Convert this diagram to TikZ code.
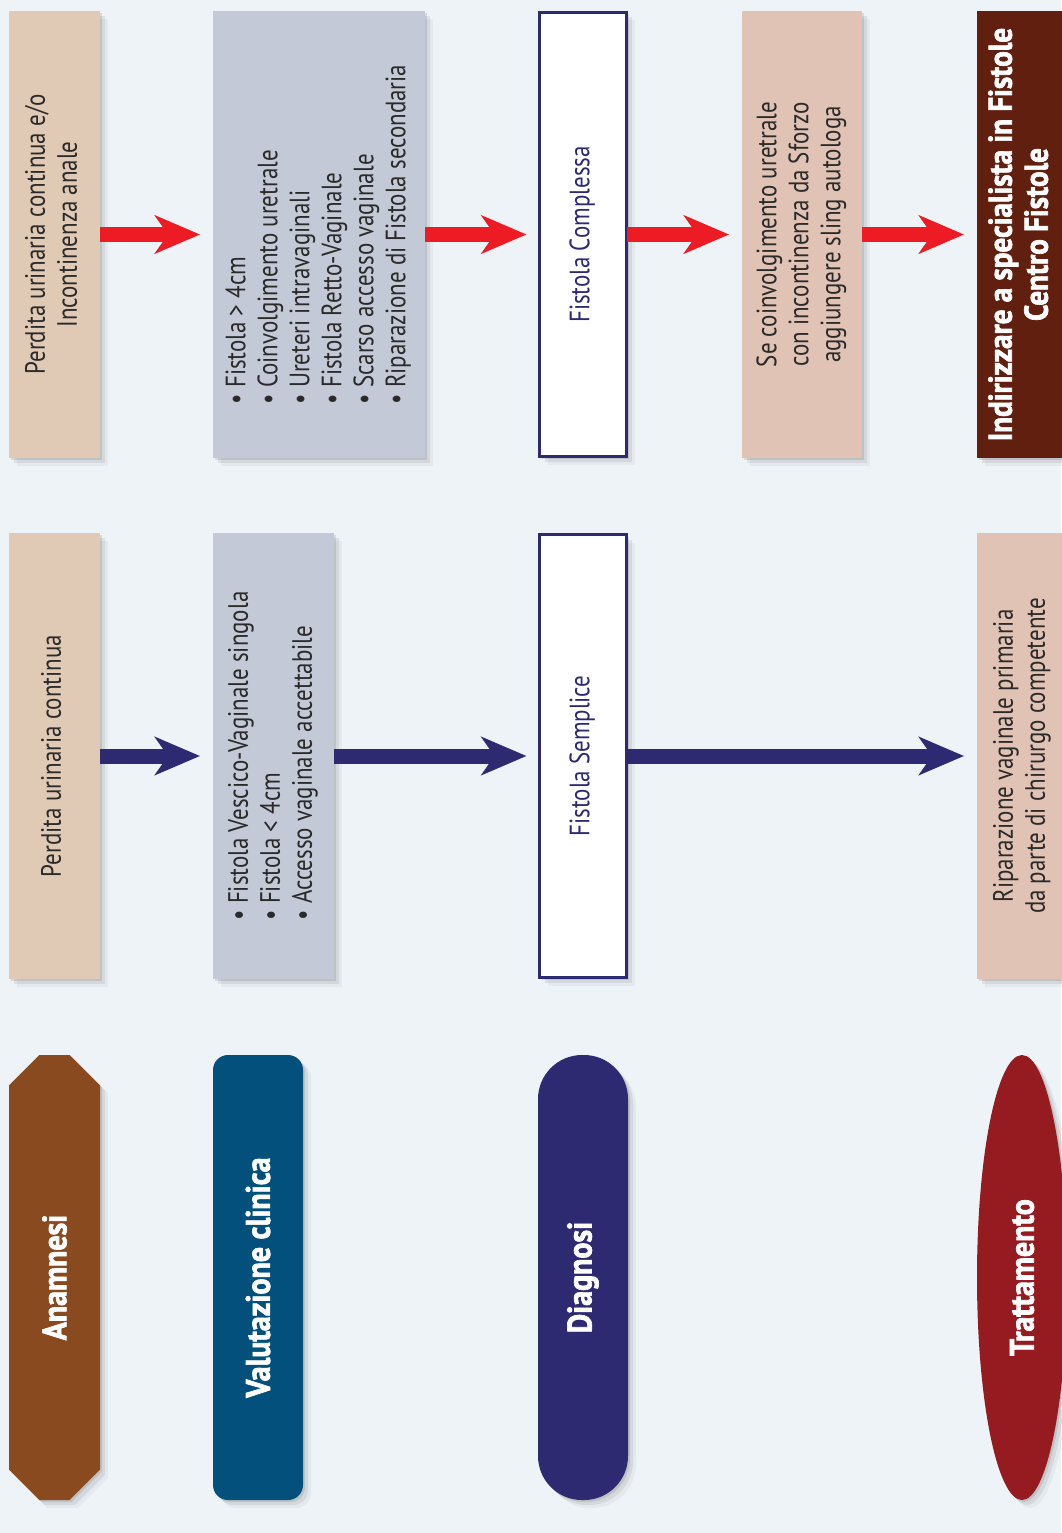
\documentclass[tikz,border=0pt]{standalone}
\usepackage{fontspec}
\setmainfont{PT Sans}[FakeStretch=0.82]
\newfontfamily\heavyfont{PT Sans}[FakeStretch=0.88, BoldFeatures={FakeBold=2}]
\usetikzlibrary{arrows.meta,shapes.geometric,shapes.misc,shadows}
\definecolor{bgc}{HTML}{EEF3F7}
\definecolor{tanc}{HTML}{E0CAB6}
\definecolor{grayc}{HTML}{C3C9D7}
\definecolor{pinkc}{HTML}{E1C3B6}
\definecolor{anamc}{HTML}{8A4A1F}
\definecolor{valc}{HTML}{02507B}
\definecolor{navyc}{HTML}{2E2A72}
\definecolor{tratc}{HTML}{961B20}
\definecolor{darkbr}{HTML}{61200F}
\definecolor{arrred}{HTML}{ED1C24}
\definecolor{txtc}{HTML}{2B2A29}
\newcommand\vtext[1]{\rotatebox{90}{\begin{tabular}{@{}c@{}}#1\end{tabular}}}
\newcommand\vlist[1]{\rotatebox{90}{\begin{tabular}{@{}l@{}}#1\end{tabular}}}
\tikzset{
  softshadow/.style={
    general shadow={shadow xshift=2pt, shadow yshift=-2pt, fill=black, opacity=0.10},
    general shadow={shadow xshift=5pt, shadow yshift=-5pt, fill=black, opacity=0.07},
    general shadow={shadow xshift=8pt, shadow yshift=-8pt, fill=black, opacity=0.04}},
  base/.style={softshadow, inner sep=0pt, outer sep=0pt, text=txtc,
    font=\fontsize{28}{32}\selectfont},
  tanbox/.style={base, rectangle, fill=tanc},
  graybox/.style={base, rectangle, fill=grayc},
  pinkbox/.style={base, rectangle, fill=pinkc},
  whitebox/.style={base, rectangle, fill=white, draw=navyc, line width=3pt, text=navyc},
  titlefont/.style={text=white, font=\heavyfont\bfseries\fontsize{34}{38}\selectfont},
  redarr/.style={draw=arrred, line width=15pt, -{Stealth[length=45pt,width=38pt,inset=13pt]}, shorten >=13pt},
  navyarr/.style={draw=navyc, line width=15pt, -{Stealth[length=45pt,width=38pt,inset=13pt]}, shorten >=13pt}
}
\begin{document}
\begin{tikzpicture}[x=1pt,y=-1pt]
\fill[bgc] (0,0) rectangle (1061,1533);
\useasboundingbox (0,0) rectangle (1061,1533);

% column 1
\node[tanbox, minimum width=91pt, minimum height=447pt] (a1) at (54.5,234.5)
  {\vtext{Perdita urinaria continua e/o\\Incontinenza anale}};
\node[tanbox, minimum width=91pt, minimum height=446pt] (a2) at (54.5,756)
  {\vtext{Perdita urinaria continua}};
\node[base, chamfered rectangle, chamfered rectangle xsep=18pt, chamfered rectangle ysep=18pt,
  fill=anamc, minimum width=91pt, minimum height=445pt, titlefont] (a3) at (54.5,1277.5)
  {\rotatebox{90}{Anamnesi}};

% column 2
\node[graybox, minimum width=212pt, minimum height=447pt] (v1) at (319,234.5)
  {\vlist{• Fistola > 4cm\\• Coinvolgimento uretrale\\• Ureteri intravaginali\\• Fistola Retto-Vaginale\\• Scarso accesso vaginale\\• Riparazione di Fistola secondaria}};
\node[graybox, minimum width=121pt, minimum height=446pt] (v2) at (273.5,756)
  {\vlist{• Fistola Vescico-Vaginale singola\\• Fistola < 4cm\\• Accesso vaginale accettabile}};
\node[base, rectangle, rounded corners=15pt, fill=valc, minimum width=90pt, minimum height=445pt, titlefont] (v3) at (258,1277.5)
  {\rotatebox{90}{Valutazione clinica}};

% column 3
\node[whitebox, minimum width=87pt, minimum height=444pt] (d1) at (583,234.5)
  {\vtext{Fistola Complessa}};
\node[whitebox, minimum width=87pt, minimum height=443pt] (d2) at (583,756)
  {\vtext{Fistola Semplice}};
\node[base, rectangle, rounded corners=44pt, fill=navyc, minimum width=90pt, minimum height=445pt, titlefont] (d3) at (583,1277.5)
  {\rotatebox{90}{Diagnosi}};

% column 4
\node[pinkbox, minimum width=120pt, minimum height=447pt] (s1) at (802,234.5)
  {\vtext{Se coinvolgimento uretrale\\con incontinenza da Sforzo\\aggiungere sling autologa}};

% column 5
\node[base, rectangle, fill=darkbr, minimum width=91pt, minimum height=447pt, text=white,
  font=\heavyfont\bfseries\fontsize{33}{36}\selectfont] (t1) at (1022.5,234.5)
  {\vtext{Indirizzare a specialista in Fistole\\Centro Fistole}};
\node[pinkbox, minimum width=91pt, minimum height=446pt] (t2) at (1022.5,756)
  {\vtext{Riparazione vaginale primaria\\da parte di chirurgo competente}};
\node[base, ellipse, fill=tratc, minimum width=90pt, minimum height=445pt, titlefont] (t3) at (1022,1277.5)
  {\rotatebox{90}{Trattamento}};

% arrows
\draw[redarr] (a1.east) -- (v1.west);
\draw[redarr] (v1.east) -- (d1.west);
\draw[redarr] (d1.east) -- (s1.west);
\draw[redarr] (s1.east) -- (t1.west);
\draw[navyarr] (a2.east) -- (v2.west);
\draw[navyarr] (v2.east) -- (d2.west);
\draw[navyarr] (d2.east) -- (t2.west);
\end{tikzpicture}
\end{document}
